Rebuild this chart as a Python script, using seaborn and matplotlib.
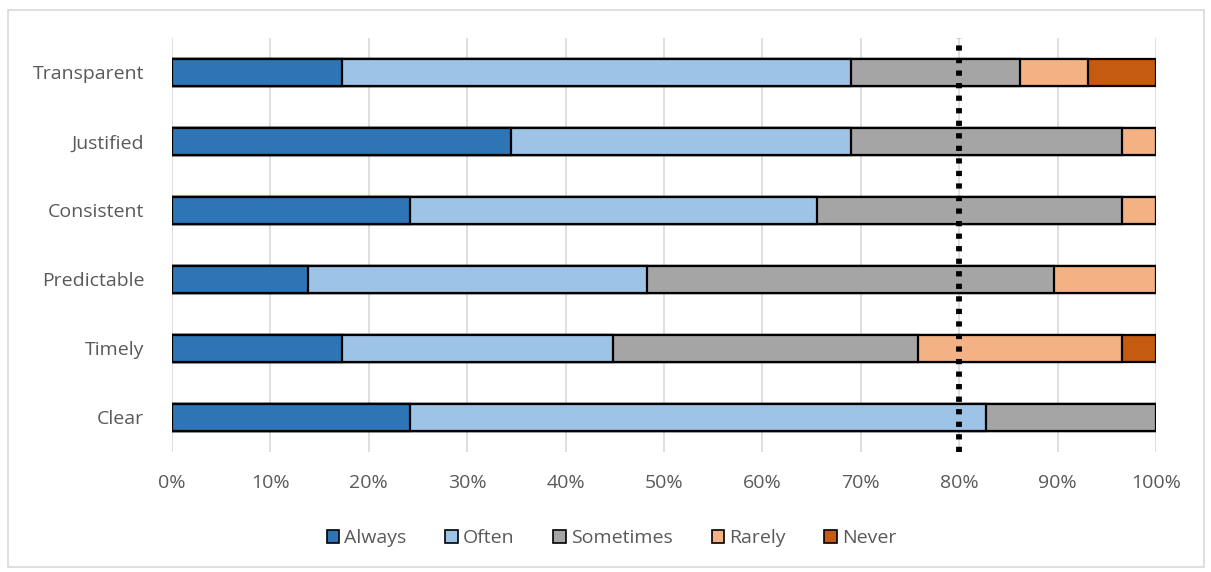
import numpy as np
import pandas as pd
import matplotlib.pyplot as plt
import matplotlib.patches as mpatches
from matplotlib.ticker import PercentFormatter
import seaborn as sns

# data: share of respondents (29 in total), percent
categories = ["Transparent", "Justified", "Consistent", "Predictable", "Timely", "Clear"]
responses = ["Always", "Often", "Sometimes", "Rarely", "Never"]
always = [17.24, 34.48, 24.14, 13.79, 17.24, 24.14]
often = [51.72, 34.48, 41.38, 34.48, 27.59, 58.62]
sometimes = [17.24, 27.59, 31.03, 41.38, 31.03, 17.24]
rarely = [6.90, 3.45, 3.45, 10.34, 20.69, 0.0]
never = [6.90, 0.0, 0.0, 0.0, 3.45, 0.0]
target = 80
colors = ["#2E75B6", "#9DC3E6", "#A5A5A5", "#F4B183", "#C55A11"]

sns.set_style("white")
plt.rcParams["font.family"] = ["Open Sans", "DejaVu Sans"]

df = pd.DataFrame({"category": categories, "Always": always, "Often": often,
                   "Sometimes": sometimes, "Rarely": rarely, "Never": never})
cum = df[responses].cumsum(axis=1)
cum["category"] = df["category"]

fig = plt.figure(figsize=(12.11, 5.72), dpi=100)
ax = fig.add_axes([0.142, 0.2098, 0.8126, 0.7238])

# stacked bars: draw cumulative totals from the last segment backwards
for resp, col in reversed(list(zip(responses, colors))):
    sns.barplot(data=cum, x=resp, y="category", order=categories, color=col,
                orient="h", width=0.4, edgecolor="black", linewidth=1.6,
                ax=ax, saturation=1)

for p in ax.patches:
    p.set_zorder(3)

ax.axvline(target, color="black", linewidth=4.2, linestyle=(0, (0.9, 1.25)),
           dash_capstyle="butt", zorder=5)

ax.set_xlim(0, 100)
ax.set_ylim(5.5, -0.5)
ax.set_xticks(np.arange(0, 101, 10))
ax.xaxis.set_major_formatter(PercentFormatter(decimals=0))
ax.grid(axis="x", color="#D9D9D9", linewidth=1.2)
ax.set_axisbelow(True)
ax.set_xlabel("")
ax.set_ylabel("")
for s in ax.spines.values():
    s.set_visible(False)
ax.tick_params(axis="both", length=0, labelsize=14, labelcolor="#595959")
ax.tick_params(axis="x", pad=16)
ax.tick_params(axis="y", pad=20)

handles = [mpatches.Patch(facecolor=c, edgecolor="black", linewidth=1.2, label=r)
           for r, c in zip(responses, colors)]
fig.legend(handles=handles, loc="center", bbox_to_anchor=(0.505, 0.059), ncol=5,
           frameon=False, fontsize=14, labelcolor="#595959", handlelength=0.65,
           handleheight=0.65, handletextpad=0.25, columnspacing=2.0)

fig.patches.append(mpatches.Rectangle((0.0066, 0.008), 0.988, 0.975,
                                      transform=fig.transFigure, fill=False,
                                      edgecolor="#D9D9D9", linewidth=1.2))

fig.savefig("out.png", dpi=100)
